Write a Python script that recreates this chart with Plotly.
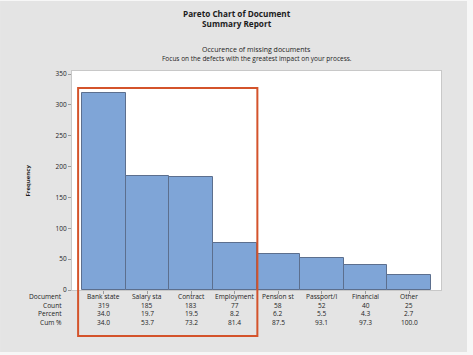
import plotly.graph_objects as go

categories = ["Bank state", "Salary sta", "Contract", "Employment",
              "Pension st", "Passport/I", "Financial", "Other"]
counts = [319, 185, 183, 77, 58, 52, 40, 25]
percents = ["34.0", "19.7", "19.5", "8.2", "6.2", "5.5", "4.3", "2.7"]
cum_percents = ["34.0", "53.7", "73.2", "81.4", "87.5", "93.1", "97.3", "100.0"]
row_labels = ["Document", "Count", "Percent", "Cum %"]
y_ticks = [0, 50, 100, 150, 200, 250, 300, 350]

FONT = "Open Sans"
TXT = "#1c1c1c"
xs = list(range(len(categories)))

fig = go.Figure()
fig.add_trace(go.Bar(
    x=xs, y=counts, width=1.0,
    marker=dict(color="#7fa5d7", line=dict(color="#5c6f8e", width=1)),
    hoverinfo="skip",
))

ann = []
# titles: (text, x paper, xshift, yshift, size)
titles = [
    ("<b>Pareto Chart of Document</b>", 0, 165, 58, 8.2),
    ("<b>Summary Report</b>", 0, 165, 48, 8.2),
    ("Occurence of missing documents", 0.5, 0, 22, 7),
    ("Focus on the defects with the greatest impact on your process.", 0.5, 0, 13, 6.5),
]
for t, xp, xsft, ys, fs in titles:
    ann.append(dict(text=t, xref="paper", yref="paper", x=xp, y=1,
                    xshift=xsft, yshift=ys, showarrow=False,
                    xanchor="center", yanchor="middle",
                    font=dict(family=FONT, size=fs, color=TXT)))

# axis title
ann.append(dict(text="<b>Frequency</b>", xref="paper", yref="paper", x=0, y=0.5,
                xshift=-45, textangle=-90, showarrow=False,
                xanchor="center", yanchor="middle",
                font=dict(family=FONT, size=6, color=TXT)))

# table rows
row_shift = [-6, -15, -23.5, -32]
rows = [categories, [str(c) for c in counts], percents, cum_percents]
for label, ys, vals in zip(row_labels, row_shift, rows):
    ann.append(dict(text=label, xref="paper", yref="paper", x=0, y=0,
                    xshift=-8, yshift=ys, showarrow=False,
                    xanchor="right", yanchor="middle",
                    font=dict(family=FONT, size=6.6, color=TXT)))
    for xi, v in zip(xs, vals):
        ann.append(dict(text=v, xref="x", yref="paper", x=xi, y=0,
                        yshift=ys, showarrow=False,
                        xanchor="center", yanchor="middle",
                        font=dict(family=FONT, size=6.6, color=TXT)))

shapes = [
    dict(type="rect", xref="paper", yref="paper", x0=-0.195, x1=1.0705,
         y0=-0.283, y1=1.32, fillcolor="#e4e4e4", line=dict(width=0), layer="below"),
    dict(type="rect", xref="paper", yref="paper", x0=0, x1=1, y0=0, y1=1,
         fillcolor="white", line=dict(width=0), layer="below"),
    dict(type="rect", xref="x", yref="paper", x0=-0.59, x1=3.52,
         y0=-0.21, y1=0.922, line=dict(color="#d4532b", width=2),
         fillcolor="rgba(0,0,0,0)", layer="above"),
]

fig.update_layout(
    width=473, height=355,
    margin=dict(l=72, r=32, t=71, b=65),
    paper_bgcolor="#f7f7f7", plot_bgcolor="white",
    bargap=0, showlegend=False,
    annotations=ann, shapes=shapes,
    xaxis=dict(range=[-0.73, 7.73], tickvals=xs, showticklabels=False,
               ticks="outside", ticklen=3, tickcolor="#9a9a9a",
               showgrid=False, zeroline=False, showline=True,
               linecolor="#c8c8c8", mirror=True, fixedrange=True),
    yaxis=dict(range=[0, 355], tickvals=y_ticks, ticks="outside", ticklen=3,
               tickcolor="#9a9a9a", showgrid=False, zeroline=False,
               showline=True, linecolor="#c8c8c8", mirror=True,
               tickfont=dict(family=FONT, size=6.5, color=TXT), fixedrange=True),
)

fig.write_html("out.html", config={"displayModeBar": False},
               post_script="document.body.style.margin='0px';")
